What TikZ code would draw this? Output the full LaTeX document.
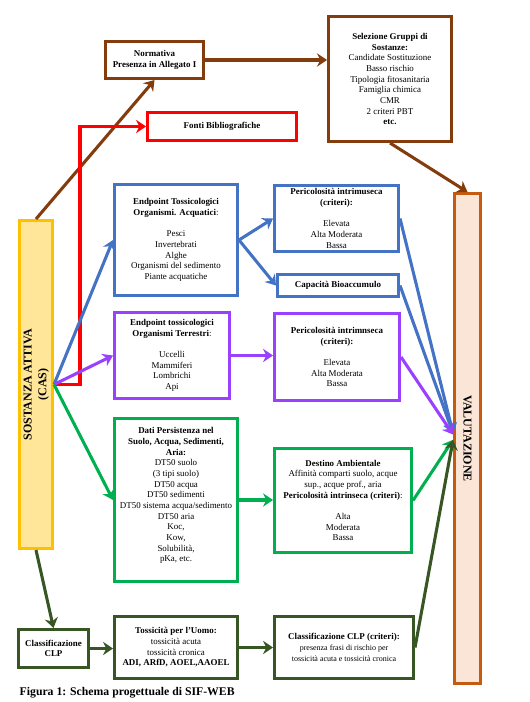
\documentclass[tikz,border=0pt]{standalone}
\usepackage{fontspec}
\setmainfont{Liberation Serif}
\usetikzlibrary{arrows.meta}

\definecolor{brownline}{HTML}{843C0C}
\definecolor{blueline}{HTML}{4472C4}
\definecolor{purpleline}{HTML}{9A40FF}
\definecolor{greenline}{HTML}{00B050}
\definecolor{darkgreenline}{HTML}{375623}
\definecolor{valborder}{HTML}{C55A11}
\definecolor{valfill}{HTML}{FBE5D6}
\definecolor{sostborder}{HTML}{FFC000}
\definecolor{sostfill}{HTML}{FFE699}

\begin{document}
\begin{tikzpicture}[x=0.75pt, y=-0.75pt,
    every node/.style={font=\fontsize{6.7}{8}\selectfont, align=center},
    box/.style={draw, line width=2.6pt, fill=white, inner sep=1pt},
    boxsize/.style 2 args={minimum width=#1*0.75pt-2.6pt,
                           minimum height=#2*0.75pt-2.6pt},
    link/.style={line width=2.3pt,
                 -{Stealth[length=7.5pt, width=10pt, inset=2.5pt]}}
  ]
  \useasboundingbox (0,0) rectangle (529,702);

  % Side columns
  \node[box, draw=sostborder, fill=sostfill, boxsize={36}{331}] (sost) at (36,384.5)
    {\rotatebox{90}{\fontsize{9}{11}\selectfont\bfseries
     \begin{tabular}{@{}c@{}}SOSTANZA ATTIVA\\(CAS)\end{tabular}}};
  \node[box, draw=valborder, fill=valfill, boxsize={29}{493}] (val) at (467.5,438.5)
    {\rotatebox{-90}{\fontsize{9}{11}\selectfont\bfseries VALUTAZIONE}};

  % Top row
  \node[box, draw=brownline, boxsize={101}{40}] (norm) at (154.5,60)
    {\textbf{Normativa}\\\textbf{Presenza in  Allegato I}};
  \node[box, draw=brownline, boxsize={126}{128}] (sel) at (390,79)
    {\textbf{Selezione Gruppi  di}\\\textbf{Sostanze:}\\Candidate Sostituzione\\
     Basso rischio\\Tipologia fitosanitaria\\Famiglia chimica\\CMR\\
     2 criteri PBT\\\textbf{etc.}};
  \node[box, draw=red, boxsize={152}{31}] (fonti) at (222,126.5)
    {\textbf{Fonti Bibliografiche}};

  % Organismi acquatici
  \node[box, draw=blueline, boxsize={126}{114}] (aq) at (176,240)
    {\textbf{Endpoint  Tossicologici}\\\textbf{Organismi.  Acquatici}:\\[8pt]
     Pesci\\Invertebrati\\Alghe\\Organismi del sedimento\\Piante acquatiche};
  \node[box, draw=blueline, boxsize={127}{69}] (per1) at (336.5,218.5)
    {\textbf{Pericolosità intrimuseca}\\\textbf{(criteri):}\\[8pt]
     Elevata\\Alta Moderata\\Bassa};
  \node[box, draw=blueline, boxsize={124}{25}] (bio) at (338,285.5)
    {\textbf{Capacità Bioaccumulo}};

  % Organismi terrestri
  \node[box, draw=purpleline, boxsize={118}{89}] (ter) at (172,355.5)
    {\textbf{Endpoint  tossicologici}\\\textbf{Organismi  Terrestri}:\\[8pt]
     Uccelli\\Mammiferi\\Lombrichi\\Api};
  \node[box, draw=purpleline, boxsize={128}{90}] (per2) at (337,357)
    {\textbf{Pericolosità intrimnseca}\\\textbf{(criteri):}\\[8pt]
     Elevata\\Alta Moderata\\Bassa};

  % Persistenza
  \node[box, draw=greenline, boxsize={126}{166}] (dati) at (176,500)
    {\textbf{Dati Persistenza nel}\\\textbf{Suolo, Acqua, Sedimenti,}\\\textbf{Aria:}\\
     DT50 suolo\\(3 tipi suolo)\\DT50 acqua\\DT50 sedimenti\\
     DT50 sistema acqua/sedimento\\DT50 aria\\Koc,\\Kow,\\Solubilità,\\pKa, etc.\\~};
  \node[box, draw=greenline, boxsize={140}{107}] (dest) at (343,500.5)
    {\textbf{Destino Ambientale}\\Affinità comparti suolo, acque\\sup., acque prof., aria\\
     \textbf{Pericolosità intrinseca  (criteri)}:\\[8pt]
     Alta\\Moderata\\Bassa};

  % Uomo
  \node[box, draw=darkgreenline, boxsize={73}{41}] (clp) at (53.5,648.5)
    {\textbf{Classificazione}\\\textbf{CLP}};
  \node[box, draw=darkgreenline, boxsize={126}{65}] (tox) at (176,647.5)
    {\textbf{Tossicità per l’Uomo:}\\tossicità acuta\\tossicità cronica\\
     \textbf{ADI,  ARfD,  AOEL,AAOEL}};
  \node[box, draw=darkgreenline, boxsize={142}{65}] (clpc) at (344,647.5)
    {\textbf{Classificazione CLP (criteri):}\\
     {\fontsize{6}{7.5}\selectfont presenza  frasi di rischio per}\\
     {\fontsize{6}{7.5}\selectfont tossicità acuta  e tossicità cronica}};

  % Caption
  \node[anchor=west, font=\fontsize{8.8}{10}\selectfont\bfseries] (cap) at (15,693)
    {Figura 1: Schema progettuale di SIF-WEB};

  % Connectors
  \draw[link, brownline] (sost.north) -- (norm.south);
  \draw[link, brownline] (norm.east) -- (norm.east -| sel.west);
  \draw[link, brownline] (sel.south) -- (val.north);

  \draw[link, red] (sost.east) -- ++(26,0) |- (fonti.west);

  \draw[link, blueline] (sost.east) -- (aq.west);
  \draw[link, blueline] (aq.east) -- (per1.west);
  \draw[link, blueline] (aq.east) -- (bio.west);
  \draw[link, blueline] (per1.east) -- ([yshift=4pt]val.west);
  \draw[link, blueline] (bio.east) -- ([yshift=4pt]val.west);

  \draw[link, purpleline] (sost.east) -- (ter.west);
  \draw[link, purpleline] (ter.east) -- (ter.east -| per2.west);
  \draw[link, purpleline] (per2.east) -- ([yshift=3pt]val.west);

  \draw[link, greenline] (sost.east) -- (dati.west);
  \draw[link, greenline] (dati.east) -- (dati.east -| dest.west);
  \draw[link, greenline] (dest.east) -- ([yshift=-1pt]val.west);

  \draw[link, darkgreenline] (sost.south) -- (clp.north);
  \draw[link, darkgreenline] (clp.east) -- (clp.east -| tox.west);
  \draw[link, darkgreenline] (tox.east) -- (tox.east -| clpc.west);
  \draw[link, darkgreenline] (clpc.east) -- ([yshift=-1pt]val.west);
\end{tikzpicture}
\end{document}
